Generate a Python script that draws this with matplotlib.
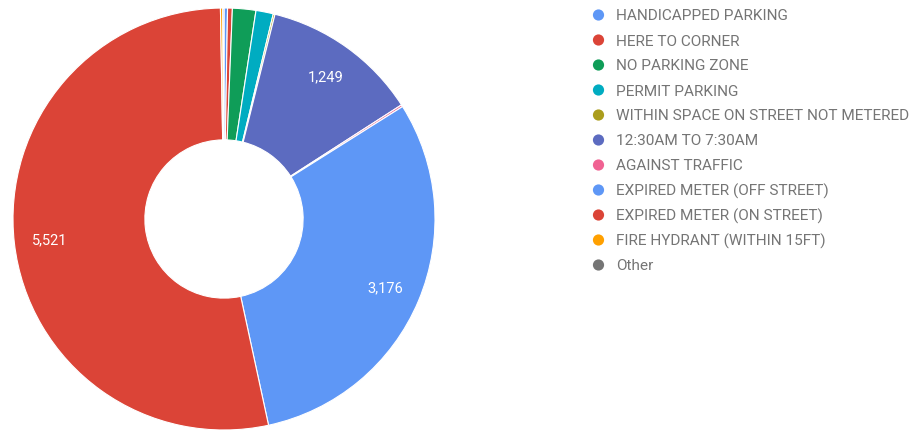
import matplotlib.pyplot as plt
import numpy as np
from matplotlib.patches import Circle

plt.rcParams['font.family'] = ['Roboto', 'DejaVu Sans']

# violation counts, clockwise from 12 o'clock
labels = ['HANDICAPPED PARKING', 'HERE TO CORNER', 'NO PARKING ZONE', 'PERMIT PARKING',
          'WITHIN SPACE ON STREET NOT METERED', '12:30AM TO 7:30AM', 'AGAINST TRAFFIC',
          'EXPIRED METER (OFF STREET)', 'EXPIRED METER (ON STREET)',
          'FIRE HYDRANT (WITHIN 15FT)', 'Other']
counts = [28, 38, 186, 138, 14, 1249, 16, 3176, 5521, 18, 10]
colors = ['#5e97f6', '#db4437', '#0f9d58', '#00acc1', '#ab9d1c', '#5c6bc0',
          '#f06292', '#5e97f6', '#db4437', '#ffa000', '#757575']

W, H = 917, 431
fig = plt.figure(figsize=(W / 100, H / 100), dpi=100)

# donut: centre (224, 220) px, outer radius 211 px
cx, cy, r = 224, 220, 211
ax = fig.add_axes([(cx - r) / W, (H - cy - r) / H, 2 * r / W, 2 * r / H])

total = sum(counts)
wedges, _ = ax.pie(counts, colors=colors, startangle=90, counterclock=False,
                   radius=1.0, wedgeprops=dict(width=0.625, edgecolor='white', linewidth=0.8))

# value labels only on the big slices
for w, v in zip(wedges, counts):
    if v / total < 0.05:
        continue
    ang = np.deg2rad((w.theta1 + w.theta2) / 2)
    ax.text(0.83 * np.cos(ang), 0.83 * np.sin(ang), f'{v:,}', color='white',
            fontsize=10.5, ha='center', va='center')
ax.set_xlim(-1, 1)
ax.set_ylim(-1, 1)
ax.set_aspect('equal')
ax.axis('off')

# legend on a pixel-coordinate overlay: dot + label, 25 px apart
lax = fig.add_axes([0, 0, 1, 1], zorder=-1)
lax.set_xlim(0, W)
lax.set_ylim(H, 0)
lax.axis('off')
for i, (lab, c) in enumerate(zip(labels, colors)):
    y = 16 + 25 * i
    lax.add_patch(Circle((598.5, y), 5.6, color=c, lw=0))
    lax.text(616, y + 0.5, lab, color='#757575', fontsize=11.1,
             ha='left', va='center')

fig.savefig('out.png', dpi=100)
